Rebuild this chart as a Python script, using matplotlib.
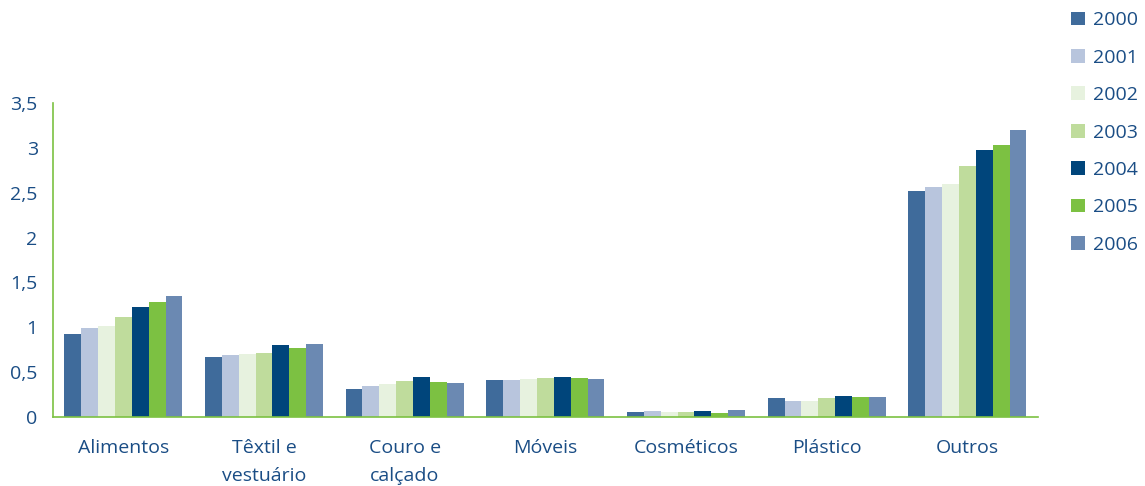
import numpy as np
import matplotlib.pyplot as plt
from matplotlib.patches import Patch

categories = ["Alimentos", "Têxtil e\nvestuário", "Couro e\ncalçado", "Móveis",
              "Cosméticos", "Plástico", "Outros"]
years = ["2000", "2001", "2002", "2003", "2004", "2005", "2006"]

v2000 = [0.92, 0.67, 0.31, 0.41, 0.06, 0.21, 2.52]
v2001 = [0.99, 0.69, 0.35, 0.41, 0.07, 0.18, 2.56]
v2002 = [1.01, 0.70, 0.37, 0.42, 0.06, 0.18, 2.60]
v2003 = [1.12, 0.71, 0.40, 0.43, 0.06, 0.21, 2.80]
v2004 = [1.23, 0.80, 0.45, 0.45, 0.07, 0.23, 2.98]
v2005 = [1.28, 0.77, 0.39, 0.43, 0.045, 0.22, 3.03]
v2006 = [1.35, 0.81, 0.38, 0.42, 0.08, 0.22, 3.20]
series = [v2000, v2001, v2002, v2003, v2004, v2005, v2006]

colors = ["#3f6b9b", "#b8c5dd", "#e7f2df", "#bfdc9c", "#00457b", "#7cc142", "#6b89b2"]
text_color = "#1a4d85"
green = "#7cc142"

plt.rcParams['font.family'] = ['Open Sans', 'DejaVu Sans']

fig = plt.figure(figsize=(11.45, 4.86), dpi=100)
ax = fig.add_axes([0.0463, 0.142, 0.86, 0.646])

x = np.arange(len(categories))
w = 0.12
for i, vals in enumerate(series):
    ax.bar(x + (i - 3) * w, vals, width=w, color=colors[i], label=years[i])

ax.set_xlim(-0.5, 6.5)
ax.set_ylim(0, 3.5)
ax.set_yticks(np.arange(0, 3.51, 0.5))
ax.set_yticklabels([f"{t:g}".replace(".", ",") for t in np.arange(0, 3.51, 0.5)])
ax.set_xticks(x)
ax.set_xticklabels(categories, linespacing=1.72)
ax.tick_params(axis='both', length=0, colors=text_color, labelsize=14)
ax.tick_params(axis='y', pad=11)
ax.tick_params(axis='x', pad=16)
for s in ["top", "right"]:
    ax.spines[s].set_visible(False)
for s in ["left", "bottom"]:
    ax.spines[s].set_color(green)
    ax.spines[s].set_linewidth(1.2)

handles = [Patch(facecolor=c, edgecolor='none') for c in colors]
leg = fig.legend(handles, years, loc='upper left', bbox_to_anchor=(0.92, 1.013),
                 frameon=False, fontsize=14, handlelength=0.7, handleheight=0.7,
                 handletextpad=0.45, labelspacing=1.0)
for t in leg.get_texts():
    t.set_color(text_color)

fig.savefig("out.png", dpi=100)
